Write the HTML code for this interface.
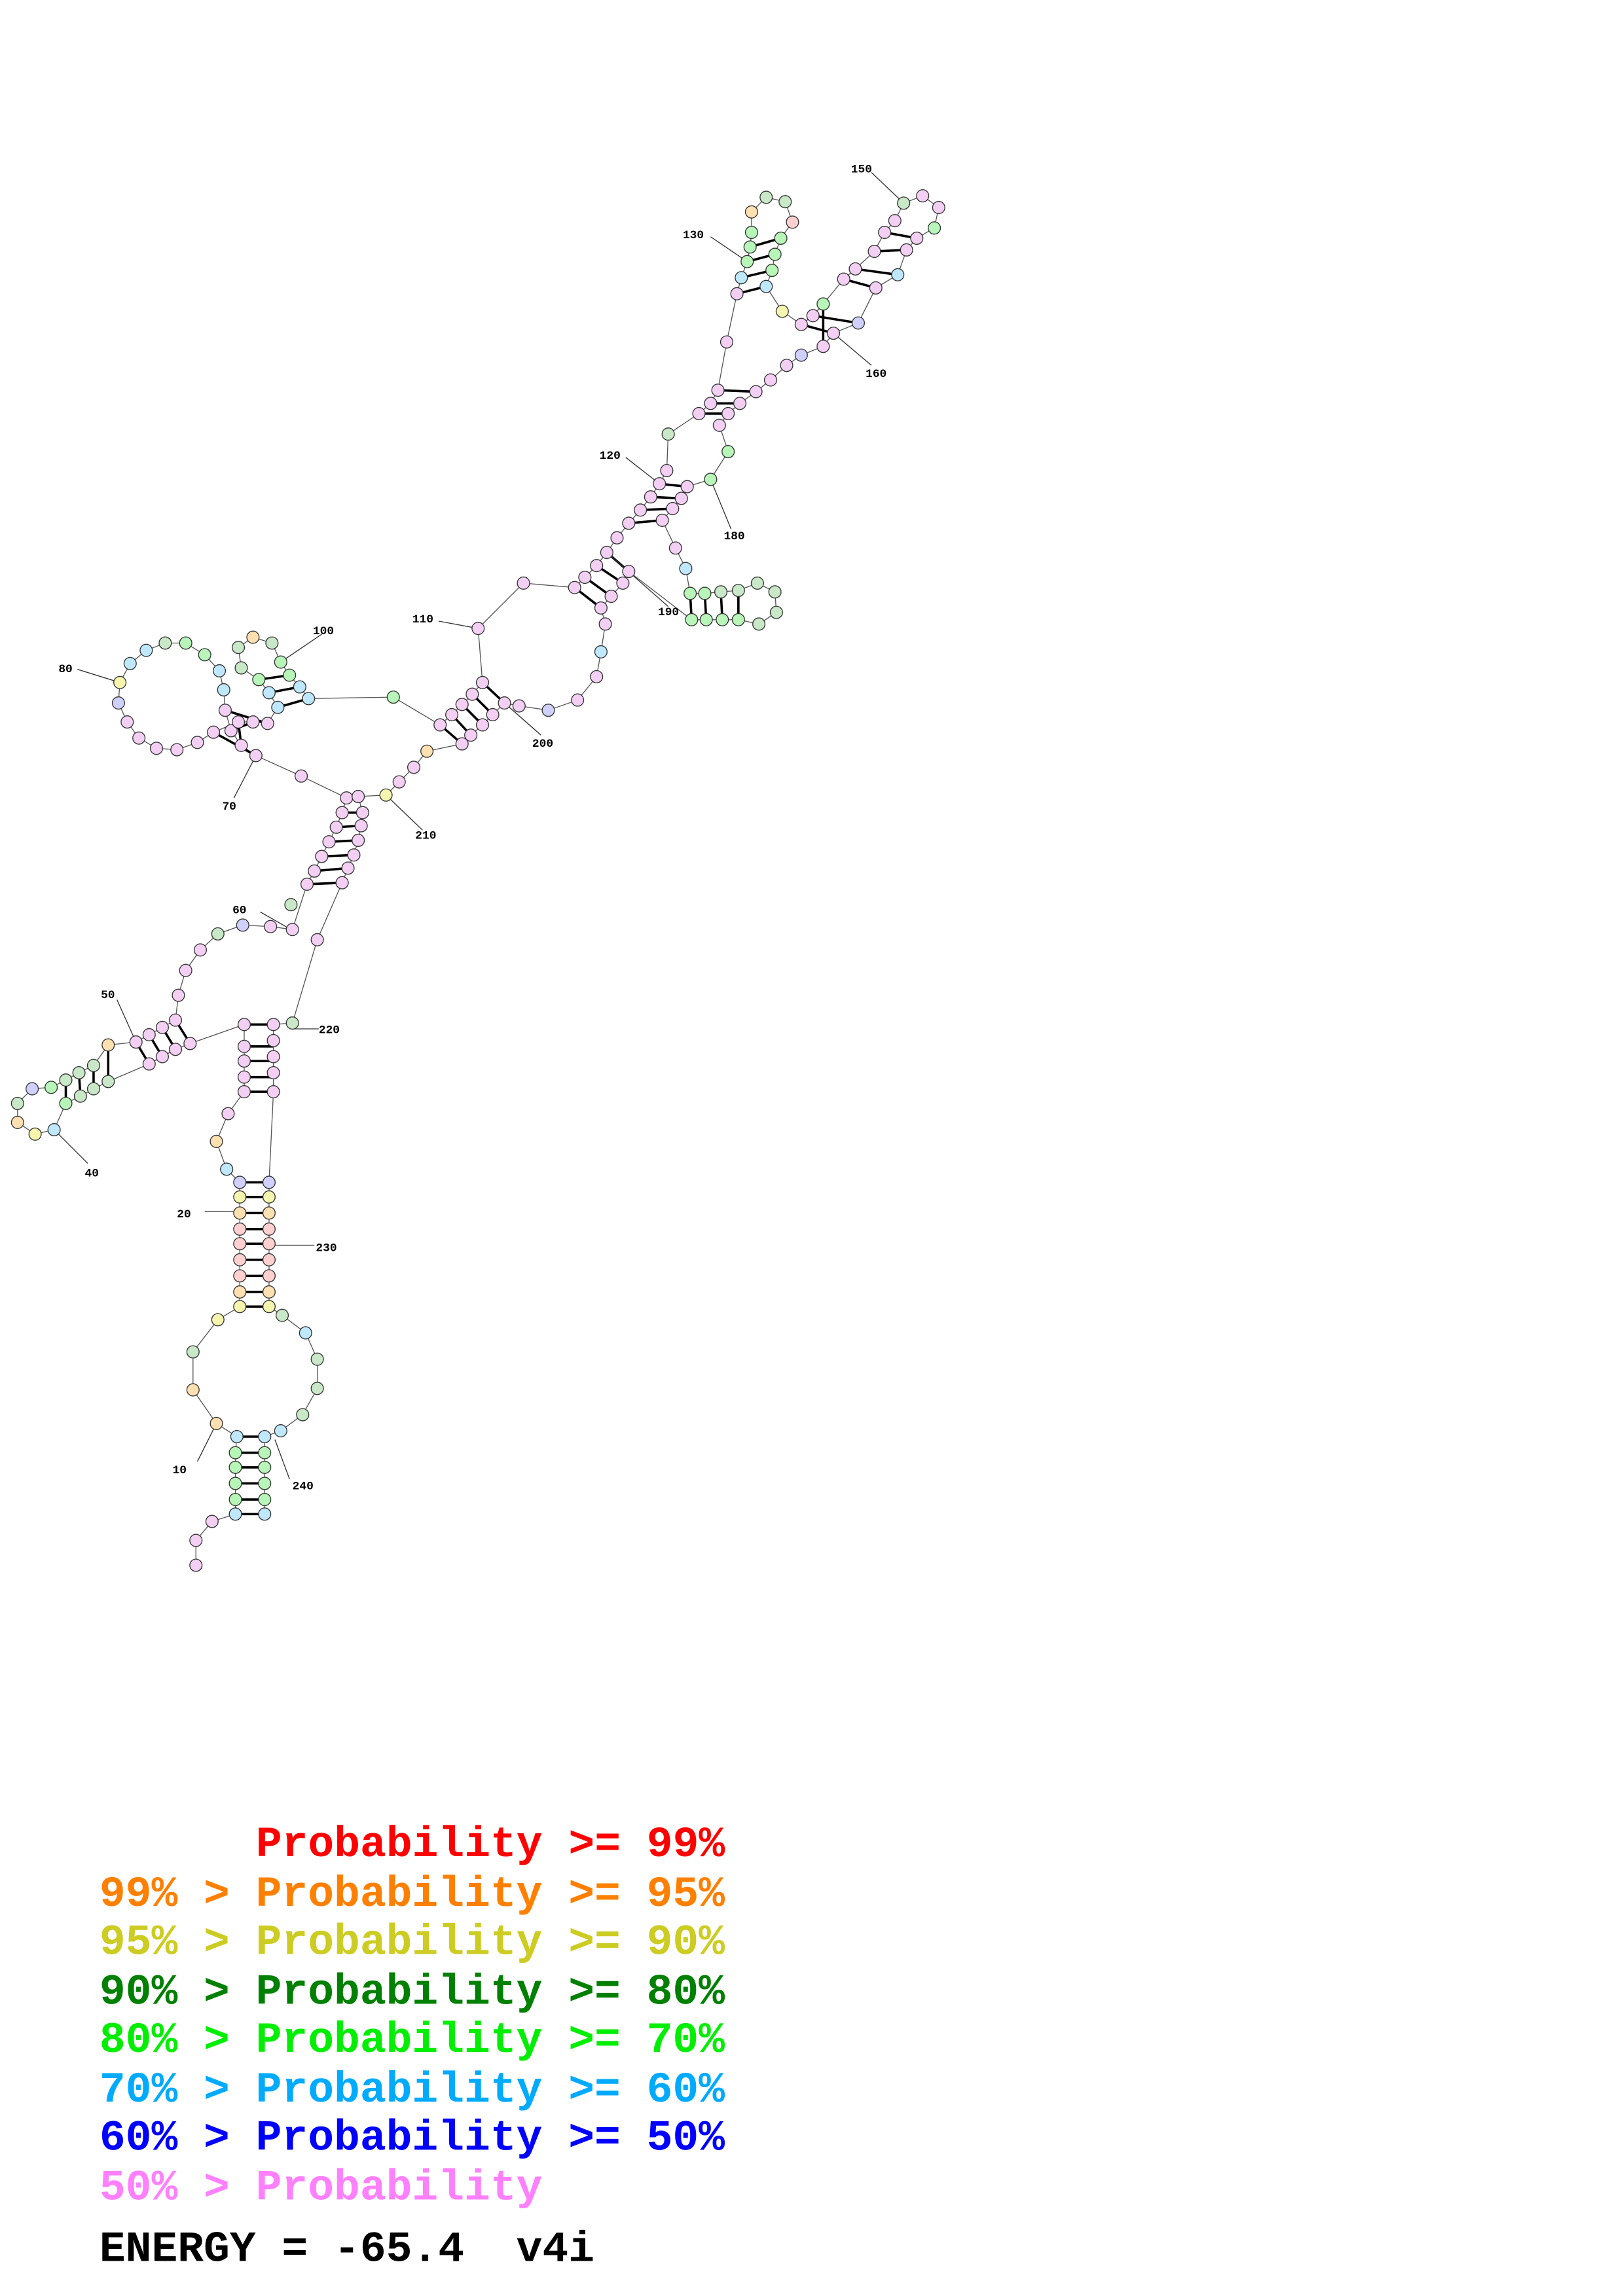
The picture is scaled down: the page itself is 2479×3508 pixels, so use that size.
<!DOCTYPE html>
<html><head><meta charset="utf-8"><style>
html,body{margin:0;padding:0;background:#fff}
svg{display:block}
.t{font-family:"Liberation Mono",monospace;font-weight:bold;font-size:29.7px;white-space:pre}
.l{font-family:"Liberation Mono",monospace;font-weight:bold;font-size:8px;fill:#000}
circle{fill:#f3d0f3;stroke:#333;stroke-width:0.6}
</style></head><body>
<svg width="2479" height="3508" viewBox="0 0 1110 1571" preserveAspectRatio="none" xmlns="http://www.w3.org/2000/svg">
<rect width="1110" height="1571" fill="#fff"/>
<polyline fill="none" stroke="#555" stroke-width="0.6" points="134,1071 134,1054 145,1041 161,1036 161,1026 161,1015 161,1004 161,994 162,983 148,974 132,951 132,925 149,903 164,894 164,884 164,873 164,862 164,851 164,841 164,830 164,819 164,809 155,800 148,781 156,762 167,747 167,737 167,726 167,716 167,701 130,714 120,718 111,723 102,728 74,740 64,745 55,750 45,755 37,773 24,776 12,768 12,755 22,745 35,744 45,739 54,734 64,729 74,715 93,713 102,708 111,703 120,698 122,681 127,664 137,650 149,639 166,633 185,634 200,636 210,605 215,596 220,586 225,576 230,566 234,556 237,546 206,531 175,517 165,510 158,500 154,486 153,472 150,459 140,448 127,440 113,440 100,445 89,454 82,467 81,481 87,494 95,505 107,512 121,513 135,508 146,501 163,494 173,494 183,495 190,484 184,474 177,465 165,457 163,443 173,436 186,440 192,453 198,462 205,470 211,478 269,477 301,496 309,489 316,482 323,475 330,467 327,430 358,399 393,402 400,395 408,387 415,378 422,368 430,358 438,349 445,340 451,331 456,322 457,297 478,283 486,276 491,267 497,234 504,201 507,190 511,179 513,169 514,159 514,145 524,135 537,138 542,152 534,163 530,174 528,185 524,196 535,213 548,222 556,216 563,208 577,191 585,184 598,172 605,159 612,151 618,139 631,134 642,142 639,156 627,163 620,171 614,188 599,197 587,221 570,228 563,237 548,243 538,250 527,260 517,268 506,276 498,283 492,291 498,309 486,328 470,333 466,341 460,348 453,356 462,375 469,389 472,406 482,406 493,405 505,404 518,399 530,405 531,419 519,427 505,424 494,424 483,424 473,424 430,391 426,399 418,408 411,416 414,427 411,446 408,463 395,479 375,486 355,483 345,481 337,489 330,496 322,503 316,509 292,514 283,525 273,535 264,544 245,545 248,556 247,565 245,575 242,585 238,594 234,604 217,643 200,700 187,701 187,712 187,723 187,734 187,747 184,809 184,819 184,830 184,841 184,851 184,862 184,873 184,884 184,894 193,900 209,912 217,930 217,950 207,968 192,979 181,983 181,994 181,1004 181,1015 181,1026 181,1036"/>
<g stroke="#000" stroke-width="1.6">
<path d="M161,1036H181M161,1026H181M161,1015H181M161,1004H181M161,994H181M162,983H181"/>
<path d="M164,894H184M164,884H184M164,873H184M164,862H184M164,851H184M164,841H184M164,830H184M164,819H184M164,809H184"/>
<path d="M167,747H187M167,737H187M167,726H187M167,716H187M167,701H187"/>
<path d="M130,714L120,698M120,718L111,703M111,723L102,708M102,728L93,713"/>
<path d="M74,740L74,715M64,745L64,729M55,750L54,734M45,755L45,739"/>
<path d="M210,605L234,604M215,596L238,594M220,586L242,585M225,576L245,575M230,566L247,565M234,556L248,556M237,546L245,545"/>
<path d="M175,517L146,501M165,510L163,494M158,500L173,494M154,486L183,495"/>
<path d="M190,484L211,478M184,474L205,470M177,465L198,462"/>
<path d="M301,496L316,509M309,489L322,503M316,482L330,496M323,475L337,489M330,467L345,481"/>
<path d="M393,402L411,416M400,395L418,408M408,387L426,399M415,378L430,391"/>
<path d="M430,358L453,356M438,349L460,348M445,340L466,341M451,331L470,333"/>
<path d="M478,283L498,283M486,276L506,276M491,267L517,268"/>
<path d="M504,201L524,196M507,190L528,185M511,179L530,174M513,169L534,163"/>
<path d="M548,222L570,228M556,216L587,221M563,208L563,237"/>
<path d="M577,191L599,197M585,184L614,188M598,172L620,171M605,159L627,163"/>
<path d="M472,406L473,424M482,406L483,424M493,405L494,424M505,404L505,424"/>
</g>
<g stroke="#333" stroke-width="0.6">
<path d="M135,1000L148,974M198,1012L188,985M140,829H164M187,852H215M60,796L37,773M80,684L93,713M178,624L199,636M160,546L175,517M53,458L82,467M220,434L192,453M300,425L327,430M428,313L451,331M486,162L511,179M596,118L618,139M596,250L570,228M500,362L486,328M457,415L415,378M370,503L345,481M289,568L264,544M218,704H200"/>
</g>
<g>
<circle cx="134" cy="1071" r="4.2"/><circle cx="134" cy="1054" r="4.2"/><circle cx="145" cy="1041" r="4.2"/>
<circle cx="161" cy="1036" r="4.2" style="fill:#bfe8ff"/><circle cx="161" cy="1026" r="4.2" style="fill:#b8f5b8"/><circle cx="161" cy="1015" r="4.2" style="fill:#b8f5b8"/><circle cx="161" cy="1004" r="4.2" style="fill:#b8f5b8"/><circle cx="161" cy="994" r="4.2" style="fill:#b8f5b8"/><circle cx="162" cy="983" r="4.2" style="fill:#bfe8ff"/>
<circle cx="148" cy="974" r="4.2" style="fill:#ffe0b0"/><circle cx="132" cy="951" r="4.2" style="fill:#ffe0b0"/><circle cx="132" cy="925" r="4.2" style="fill:#c8e8c8"/><circle cx="149" cy="903" r="4.2" style="fill:#f5f5b0"/>
<circle cx="164" cy="894" r="4.2" style="fill:#f5f5b0"/><circle cx="164" cy="884" r="4.2" style="fill:#ffe0b0"/><circle cx="164" cy="873" r="4.2" style="fill:#ffd0d0"/><circle cx="164" cy="862" r="4.2" style="fill:#ffd0d0"/><circle cx="164" cy="851" r="4.2" style="fill:#ffd0d0"/><circle cx="164" cy="841" r="4.2" style="fill:#ffd0d0"/><circle cx="164" cy="830" r="4.2" style="fill:#ffe0b0"/><circle cx="164" cy="819" r="4.2" style="fill:#f5f5b0"/><circle cx="164" cy="809" r="4.2" style="fill:#d0d0ff"/>
<circle cx="155" cy="800" r="4.2" style="fill:#bfe8ff"/><circle cx="148" cy="781" r="4.2" style="fill:#ffe0b0"/><circle cx="156" cy="762" r="4.2"/>
<circle cx="167" cy="747" r="4.2"/><circle cx="167" cy="737" r="4.2"/><circle cx="167" cy="726" r="4.2"/><circle cx="167" cy="716" r="4.2"/><circle cx="167" cy="701" r="4.2"/>
<circle cx="130" cy="714" r="4.2"/><circle cx="120" cy="718" r="4.2"/><circle cx="111" cy="723" r="4.2"/><circle cx="102" cy="728" r="4.2"/>
<circle cx="74" cy="740" r="4.2" style="fill:#c8e8c8"/><circle cx="64" cy="745" r="4.2" style="fill:#c8e8c8"/><circle cx="55" cy="750" r="4.2" style="fill:#c8e8c8"/><circle cx="45" cy="755" r="4.2" style="fill:#b8f5b8"/><circle cx="37" cy="773" r="4.2" style="fill:#bfe8ff"/><circle cx="24" cy="776" r="4.2" style="fill:#f5f5b0"/><circle cx="12" cy="768" r="4.2" style="fill:#ffe0b0"/><circle cx="12" cy="755" r="4.2" style="fill:#c8e8c8"/><circle cx="22" cy="745" r="4.2" style="fill:#d0d0ff"/><circle cx="35" cy="744" r="4.2" style="fill:#b8f5b8"/><circle cx="45" cy="739" r="4.2" style="fill:#c8e8c8"/><circle cx="54" cy="734" r="4.2" style="fill:#c8e8c8"/><circle cx="64" cy="729" r="4.2" style="fill:#c8e8c8"/><circle cx="74" cy="715" r="4.2" style="fill:#ffe0b0"/>
<circle cx="93" cy="713" r="4.2"/><circle cx="102" cy="708" r="4.2"/><circle cx="111" cy="703" r="4.2"/><circle cx="120" cy="698" r="4.2"/>
<circle cx="122" cy="681" r="4.2"/><circle cx="127" cy="664" r="4.2"/><circle cx="137" cy="650" r="4.2"/><circle cx="149" cy="639" r="4.2" style="fill:#c8e8c8"/><circle cx="166" cy="633" r="4.2" style="fill:#d0d0ff"/><circle cx="185" cy="634" r="4.2"/><circle cx="200" cy="636" r="4.2"/>
<circle cx="210" cy="605" r="4.2"/><circle cx="215" cy="596" r="4.2"/><circle cx="220" cy="586" r="4.2"/><circle cx="225" cy="576" r="4.2"/><circle cx="230" cy="566" r="4.2"/><circle cx="234" cy="556" r="4.2"/><circle cx="237" cy="546" r="4.2"/>
<circle cx="206" cy="531" r="4.2"/><circle cx="175" cy="517" r="4.2"/><circle cx="165" cy="510" r="4.2"/><circle cx="158" cy="500" r="4.2"/><circle cx="154" cy="486" r="4.2"/>
<circle cx="153" cy="472" r="4.2" style="fill:#bfe8ff"/><circle cx="150" cy="459" r="4.2" style="fill:#bfe8ff"/><circle cx="140" cy="448" r="4.2" style="fill:#b8f5b8"/><circle cx="127" cy="440" r="4.2" style="fill:#b8f5b8"/><circle cx="113" cy="440" r="4.2" style="fill:#c8e8c8"/><circle cx="100" cy="445" r="4.2" style="fill:#bfe8ff"/><circle cx="89" cy="454" r="4.2" style="fill:#bfe8ff"/><circle cx="82" cy="467" r="4.2" style="fill:#f5f5b0"/><circle cx="81" cy="481" r="4.2" style="fill:#d0d0ff"/><circle cx="87" cy="494" r="4.2"/><circle cx="95" cy="505" r="4.2"/><circle cx="107" cy="512" r="4.2"/><circle cx="121" cy="513" r="4.2"/><circle cx="135" cy="508" r="4.2"/><circle cx="146" cy="501" r="4.2"/>
<circle cx="163" cy="494" r="4.2"/><circle cx="173" cy="494" r="4.2"/><circle cx="183" cy="495" r="4.2"/>
<circle cx="190" cy="484" r="4.2" style="fill:#bfe8ff"/><circle cx="184" cy="474" r="4.2" style="fill:#bfe8ff"/><circle cx="177" cy="465" r="4.2" style="fill:#b8f5b8"/><circle cx="165" cy="457" r="4.2" style="fill:#c8e8c8"/><circle cx="163" cy="443" r="4.2" style="fill:#c8e8c8"/><circle cx="173" cy="436" r="4.2" style="fill:#ffe0b0"/><circle cx="186" cy="440" r="4.2" style="fill:#c8e8c8"/><circle cx="192" cy="453" r="4.2" style="fill:#b8f5b8"/><circle cx="198" cy="462" r="4.2" style="fill:#b8f5b8"/><circle cx="205" cy="470" r="4.2" style="fill:#bfe8ff"/><circle cx="211" cy="478" r="4.2" style="fill:#bfe8ff"/>
<circle cx="269" cy="477" r="4.2" style="fill:#b8f5b8"/>
<circle cx="301" cy="496" r="4.2"/><circle cx="309" cy="489" r="4.2"/><circle cx="316" cy="482" r="4.2"/><circle cx="323" cy="475" r="4.2"/><circle cx="330" cy="467" r="4.2"/>
<circle cx="327" cy="430" r="4.2"/><circle cx="358" cy="399" r="4.2"/><circle cx="393" cy="402" r="4.2"/>
<circle cx="400" cy="395" r="4.2"/><circle cx="408" cy="387" r="4.2"/><circle cx="415" cy="378" r="4.2"/><circle cx="422" cy="368" r="4.2"/><circle cx="430" cy="358" r="4.2"/><circle cx="438" cy="349" r="4.2"/><circle cx="445" cy="340" r="4.2"/><circle cx="451" cy="331" r="4.2"/><circle cx="456" cy="322" r="4.2"/>
<circle cx="457" cy="297" r="4.2" style="fill:#c8e8c8"/><circle cx="478" cy="283" r="4.2"/><circle cx="486" cy="276" r="4.2"/><circle cx="491" cy="267" r="4.2"/><circle cx="497" cy="234" r="4.2"/>
<circle cx="504" cy="201" r="4.2"/><circle cx="507" cy="190" r="4.2" style="fill:#bfe8ff"/><circle cx="511" cy="179" r="4.2" style="fill:#b8f5b8"/><circle cx="513" cy="169" r="4.2" style="fill:#b8f5b8"/><circle cx="514" cy="159" r="4.2" style="fill:#b8f5b8"/><circle cx="514" cy="145" r="4.2" style="fill:#ffe0b0"/><circle cx="524" cy="135" r="4.2" style="fill:#c8e8c8"/><circle cx="537" cy="138" r="4.2" style="fill:#c8e8c8"/><circle cx="542" cy="152" r="4.2" style="fill:#ffd0d0"/><circle cx="534" cy="163" r="4.2" style="fill:#b8f5b8"/><circle cx="530" cy="174" r="4.2" style="fill:#b8f5b8"/><circle cx="528" cy="185" r="4.2" style="fill:#b8f5b8"/><circle cx="524" cy="196" r="4.2" style="fill:#bfe8ff"/>
<circle cx="535" cy="213" r="4.2" style="fill:#f5f5b0"/><circle cx="548" cy="222" r="4.2"/><circle cx="556" cy="216" r="4.2"/><circle cx="563" cy="208" r="4.2" style="fill:#b8f5b8"/><circle cx="577" cy="191" r="4.2"/><circle cx="585" cy="184" r="4.2"/><circle cx="598" cy="172" r="4.2"/><circle cx="605" cy="159" r="4.2"/><circle cx="612" cy="151" r="4.2"/><circle cx="618" cy="139" r="4.2" style="fill:#c8e8c8"/><circle cx="631" cy="134" r="4.2"/><circle cx="642" cy="142" r="4.2"/><circle cx="639" cy="156" r="4.2" style="fill:#b8f5b8"/><circle cx="627" cy="163" r="4.2"/><circle cx="620" cy="171" r="4.2"/><circle cx="614" cy="188" r="4.2" style="fill:#bfe8ff"/><circle cx="599" cy="197" r="4.2"/><circle cx="587" cy="221" r="4.2" style="fill:#d0d0ff"/><circle cx="570" cy="228" r="4.2"/><circle cx="563" cy="237" r="4.2"/><circle cx="548" cy="243" r="4.2" style="fill:#d0d0ff"/><circle cx="538" cy="250" r="4.2"/><circle cx="527" cy="260" r="4.2"/><circle cx="517" cy="268" r="4.2"/><circle cx="506" cy="276" r="4.2"/><circle cx="498" cy="283" r="4.2"/><circle cx="492" cy="291" r="4.2"/>
<circle cx="498" cy="309" r="4.2" style="fill:#b8f5b8"/><circle cx="486" cy="328" r="4.2" style="fill:#b8f5b8"/><circle cx="470" cy="333" r="4.2"/><circle cx="466" cy="341" r="4.2"/><circle cx="460" cy="348" r="4.2"/><circle cx="453" cy="356" r="4.2"/><circle cx="462" cy="375" r="4.2"/><circle cx="469" cy="389" r="4.2" style="fill:#bfe8ff"/>
<circle cx="472" cy="406" r="4.2" style="fill:#b8f5b8"/><circle cx="482" cy="406" r="4.2" style="fill:#b8f5b8"/><circle cx="493" cy="405" r="4.2" style="fill:#c8e8c8"/><circle cx="505" cy="404" r="4.2" style="fill:#c8e8c8"/><circle cx="518" cy="399" r="4.2" style="fill:#c8e8c8"/><circle cx="530" cy="405" r="4.2" style="fill:#c8e8c8"/><circle cx="531" cy="419" r="4.2" style="fill:#c8e8c8"/><circle cx="519" cy="427" r="4.2" style="fill:#c8e8c8"/><circle cx="505" cy="424" r="4.2" style="fill:#b8f5b8"/><circle cx="494" cy="424" r="4.2" style="fill:#b8f5b8"/><circle cx="483" cy="424" r="4.2" style="fill:#b8f5b8"/><circle cx="473" cy="424" r="4.2" style="fill:#b8f5b8"/>
<circle cx="430" cy="391" r="4.2"/><circle cx="426" cy="399" r="4.2"/><circle cx="418" cy="408" r="4.2"/><circle cx="411" cy="416" r="4.2"/><circle cx="414" cy="427" r="4.2"/><circle cx="411" cy="446" r="4.2" style="fill:#bfe8ff"/><circle cx="408" cy="463" r="4.2"/><circle cx="395" cy="479" r="4.2"/><circle cx="375" cy="486" r="4.2" style="fill:#d0d0ff"/><circle cx="355" cy="483" r="4.2"/>
<circle cx="345" cy="481" r="4.2"/><circle cx="337" cy="489" r="4.2"/><circle cx="330" cy="496" r="4.2"/><circle cx="322" cy="503" r="4.2"/><circle cx="316" cy="509" r="4.2"/>
<circle cx="292" cy="514" r="4.2" style="fill:#ffe0b0"/><circle cx="283" cy="525" r="4.2"/><circle cx="273" cy="535" r="4.2"/><circle cx="264" cy="544" r="4.2" style="fill:#f5f5b0"/>
<circle cx="245" cy="545" r="4.2"/><circle cx="248" cy="556" r="4.2"/><circle cx="247" cy="565" r="4.2"/><circle cx="245" cy="575" r="4.2"/><circle cx="242" cy="585" r="4.2"/><circle cx="238" cy="594" r="4.2"/><circle cx="234" cy="604" r="4.2"/>
<circle cx="199" cy="619" r="4.2" style="fill:#c8e8c8"/>
<circle cx="217" cy="643" r="4.2"/><circle cx="200" cy="700" r="4.2" style="fill:#c8e8c8"/>
<circle cx="187" cy="701" r="4.2"/><circle cx="187" cy="712" r="4.2"/><circle cx="187" cy="723" r="4.2"/><circle cx="187" cy="734" r="4.2"/><circle cx="187" cy="747" r="4.2"/>
<circle cx="184" cy="809" r="4.2" style="fill:#d0d0ff"/><circle cx="184" cy="819" r="4.2" style="fill:#f5f5b0"/><circle cx="184" cy="830" r="4.2" style="fill:#ffe0b0"/><circle cx="184" cy="841" r="4.2" style="fill:#ffd0d0"/><circle cx="184" cy="851" r="4.2" style="fill:#ffd0d0"/><circle cx="184" cy="862" r="4.2" style="fill:#ffd0d0"/><circle cx="184" cy="873" r="4.2" style="fill:#ffd0d0"/><circle cx="184" cy="884" r="4.2" style="fill:#ffe0b0"/><circle cx="184" cy="894" r="4.2" style="fill:#f5f5b0"/>
<circle cx="193" cy="900" r="4.2" style="fill:#c8e8c8"/><circle cx="209" cy="912" r="4.2" style="fill:#bfe8ff"/><circle cx="217" cy="930" r="4.2" style="fill:#c8e8c8"/><circle cx="217" cy="950" r="4.2" style="fill:#c8e8c8"/><circle cx="207" cy="968" r="4.2" style="fill:#c8e8c8"/><circle cx="192" cy="979" r="4.2" style="fill:#bfe8ff"/>
<circle cx="181" cy="983" r="4.2" style="fill:#bfe8ff"/><circle cx="181" cy="994" r="4.2" style="fill:#b8f5b8"/><circle cx="181" cy="1004" r="4.2" style="fill:#b8f5b8"/><circle cx="181" cy="1015" r="4.2" style="fill:#b8f5b8"/><circle cx="181" cy="1026" r="4.2" style="fill:#b8f5b8"/><circle cx="181" cy="1036" r="4.2" style="fill:#bfe8ff"/>
</g>
<g class="l">
<text x="118" y="1008">10</text><text x="121" y="833">20</text><text x="216" y="856">230</text><text x="200" y="1019">240</text><text x="58" y="805">40</text><text x="69" y="683">50</text><text x="159" y="625">60</text><text x="152" y="554">70</text><text x="40" y="460">80</text><text x="214" y="434">100</text><text x="282" y="426">110</text><text x="410" y="314">120</text><text x="467" y="163">130</text><text x="582" y="118">150</text><text x="592" y="258">160</text><text x="495" y="369">180</text><text x="450" y="421">190</text><text x="364" y="511">200</text><text x="284" y="574">210</text><text x="218" y="707">220</text>
</g>
<text class="t" x="175" y="1270" fill="#ff0000">Probability &gt;= 99%</text>
<text class="t" x="68" y="1304" fill="#ff8000">99% &gt; Probability &gt;= 95%</text>
<text class="t" x="68" y="1337" fill="#cccc22">95% &gt; Probability &gt;= 90%</text>
<text class="t" x="68" y="1371" fill="#008000">90% &gt; Probability &gt;= 80%</text>
<text class="t" x="68" y="1404" fill="#00ee00">80% &gt; Probability &gt;= 70%</text>
<text class="t" x="68" y="1438" fill="#00aaff">70% &gt; Probability &gt;= 60%</text>
<text class="t" x="68" y="1471" fill="#0000ff">60% &gt; Probability &gt;= 50%</text>
<text class="t" x="68" y="1505" fill="#ff80ff">50% &gt; Probability</text>
<text class="t" x="68" y="1547" fill="#000">ENERGY = -65.4 &#160;v4i</text>
</svg>
</body></html>
